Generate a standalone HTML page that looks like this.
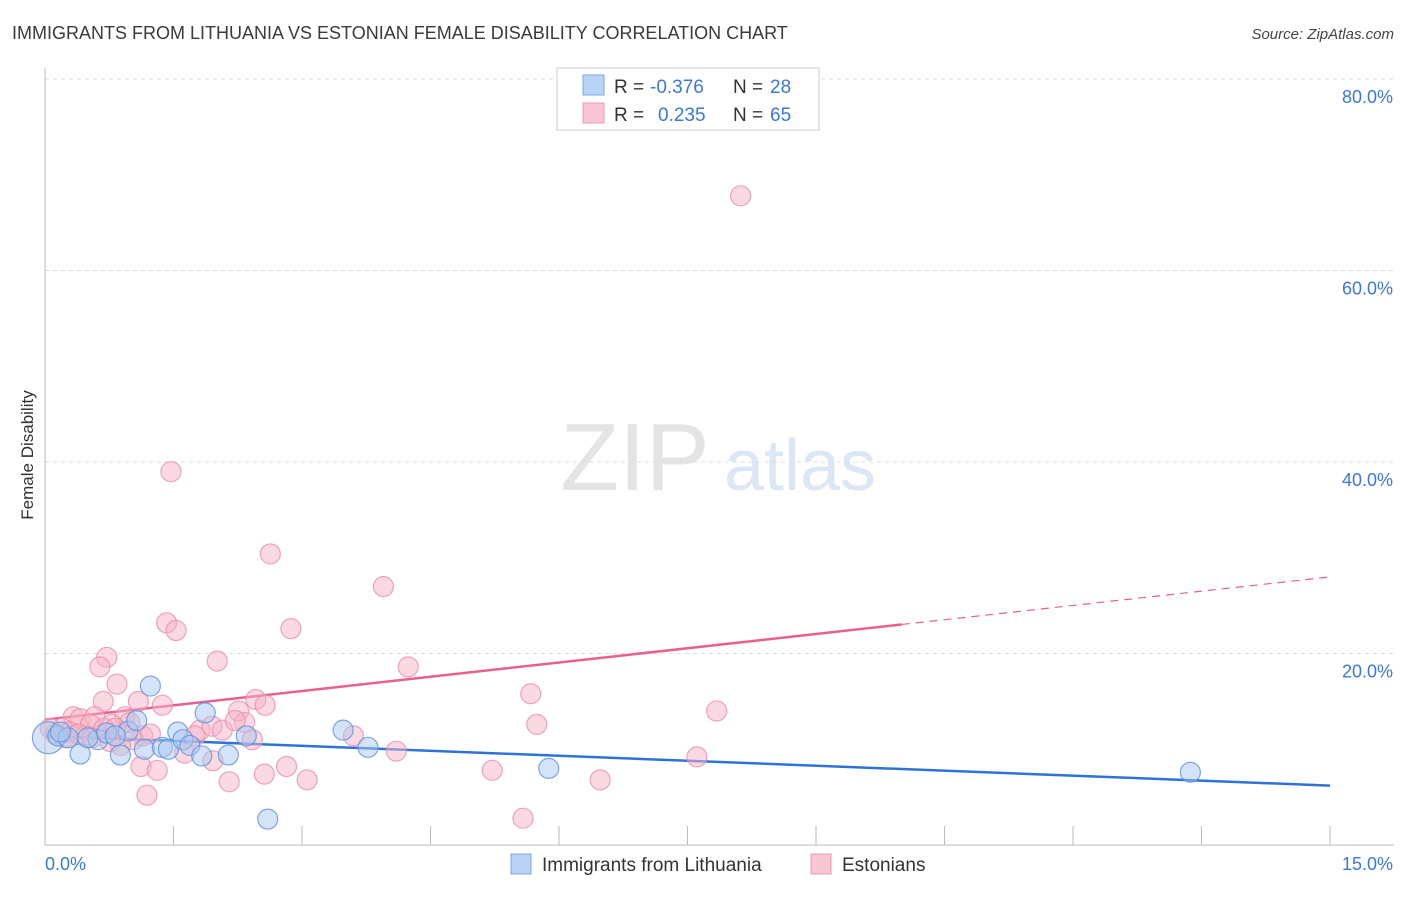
<!DOCTYPE html>
<html><head><meta charset="utf-8"><style>
body{margin:0;background:#fff;font-family:"Liberation Sans",sans-serif;}
svg text{font-family:"Liberation Sans",sans-serif;}
</style></head><body>
<svg id="chart" width="1406" height="892" xmlns="http://www.w3.org/2000/svg">
<text x="12" y="39" font-size="18" fill="#3a3a3a">IMMIGRANTS FROM LITHUANIA VS ESTONIAN FEMALE DISABILITY CORRELATION CHART</text>
<text x="1394" y="39" font-size="15" fill="#444" text-anchor="end" font-style="italic">Source: ZipAtlas.com</text>
<text transform="translate(33,455) rotate(-90)" font-size="17" fill="#333" text-anchor="middle">Female Disability</text>
<g><text x="635" y="490" font-size="96" fill="#e4e4e4" text-anchor="middle" font-family="Liberation Serif, serif">ZIP</text><text x="800" y="490" font-size="72" fill="#dce6f5" text-anchor="middle">atlas</text></g>
<g id="grid"></g><g id="axes"></g><g id="trends"></g><g id="points"></g>
<g>
<rect x="557" y="68" width="262" height="62" fill="#fff" stroke="#ccc"/>
<rect x="583" y="75" width="21" height="20" fill="#b8d3f5" stroke="#7aa7e6"/>
<rect x="583" y="103" width="21" height="20" fill="#f8c6d4" stroke="#ee9ab3"/>
<text x="614" y="93" font-size="19" fill="#333">R =</text>
<text x="650" y="93" font-size="19" fill="#3c78d8">-0.376</text>
<text x="733" y="93" font-size="19" fill="#333">N =</text>
<text x="770" y="93" font-size="19" fill="#3c78d8">28</text>
<text x="614" y="121" font-size="19" fill="#333">R =</text>
<text x="658" y="121" font-size="19" fill="#3c78d8">0.235</text>
<text x="733" y="121" font-size="19" fill="#333">N =</text>
<text x="770" y="121" font-size="19" fill="#3c78d8">65</text>
</g>
<g>
<rect x="511" y="854" width="20" height="20" fill="#b8d3f5" stroke="#7aa7e6"/>
<text x="542" y="871" font-size="19" fill="#333">Immigrants from Lithuania</text>
<rect x="811" y="854" width="20" height="20" fill="#f8c6d4" stroke="#ee9ab3"/>
<text x="842" y="871" font-size="19" fill="#333">Estonians</text>
</g>
</svg>
<script>
const blueX=[0.04,0.15,0.27,0.41,0.62,0.72,0.88,0.97,1.07,1.16,1.23,1.37,1.44,1.55,1.61,1.69,1.83,1.87,2.14,2.35,2.60,3.48,3.77,5.88,13.37,0.18,0.82,0.50];
const blueY=[11.2,11.4,11.2,9.5,11.0,11.7,9.4,11.9,13.0,10.0,16.6,10.2,10.0,11.8,11.0,10.4,9.3,13.8,9.4,11.4,2.7,12.0,10.2,8.0,7.6,11.8,11.4,11.2];
const pinkX=[8.12,1.47,2.63,3.95,1.42,1.53,2.87,0.72,2.01,0.64,4.24,0.84,5.67,0.68,1.09,1.37,2.46,2.57,7.84,0.33,0.41,0.58,0.93,2.26,2.33,5.74,0.53,0.78,0.99,1.81,1.95,2.07,3.60,0.20,0.29,0.47,1.14,1.03,2.42,0.88,4.10,7.61,1.63,1.96,1.12,2.82,1.31,2.56,5.22,3.06,6.48,2.15,1.19,5.58,0.12,0.06,0.23,0.39,0.55,0.69,0.76,1.23,1.75,2.22,0.82];
const pinkY=[67.8,39.0,30.4,27.0,23.2,22.4,22.6,19.6,19.2,18.6,18.6,16.8,15.8,15.0,15.0,14.6,15.2,14.6,14.0,13.4,13.2,13.4,13.4,14.0,12.8,12.6,12.6,12.6,12.8,12.0,12.4,12.0,11.4,12.2,11.8,11.4,11.4,11.0,11.0,10.4,9.8,9.2,9.6,8.8,8.2,8.2,7.8,7.4,7.8,6.8,6.8,6.6,5.2,2.8,11.6,12.2,11.2,11.6,11.2,12.2,10.8,11.6,11.4,13.0,12.2];
const blueTrend=[11.4,6.2];      // y at x=0 and x=15
const pinkTrend=[13.1,28.0];     // y at x=0 and x=15
const pinkSolidEnd=10.0;         // solid part ends at this x
const yTicks=[20,40,60,80];
const yTickLabels=["20.0%","40.0%","60.0%","80.0%"];
const xTicks=[0,1.5,3,4.5,6,7.5,9,10.5,12,13.5,15];
const xEndLabels=["0.0%","15.0%"];

const sx=v=>45+v*(1285/15);
const sy=v=>845-v*(766/80);
const NS="http://www.w3.org/2000/svg";
function mk(tag,parent,attrs){const e=document.createElementNS(NS,tag);for(const k in attrs)e.setAttribute(k,attrs[k]);parent.appendChild(e);return e;}
const grid=document.getElementById('grid'),axes=document.getElementById('axes'),trends=document.getElementById('trends'),pts=document.getElementById('points');
yTicks.forEach((t,i)=>{
 const l=mk('line',grid,{x1:45,x2:1394,y1:sy(t),y2:sy(t),stroke:'#ddd','stroke-dasharray':'4,4'});
 
 
 const tx=mk('text',axes,{x:1393,y:sy(t)+24,'font-size':18,fill:'#3c78d8','text-anchor':'end'});
 tx.textContent=yTickLabels[i];
 
 
});
const ya=mk('line',axes,{x1:45,x2:45,y1:68,y2:845,stroke:'#bbb'});


const xa=mk('line',axes,{x1:45,x2:1394,y1:845,y2:845,stroke:'#bbb'});


xTicks.forEach(t=>{
 const l=mk('line',axes,{x1:sx(t),x2:sx(t),y1:826,y2:845,stroke:'#bbb'});
 
 
});
const xl0=mk('text',axes,{x:45,y:870,'font-size':18,fill:'#3c78d8'});xl0.textContent=xEndLabels[0];


const xl1=mk('text',axes,{x:1393,y:870,'font-size':18,fill:'#3c78d8','text-anchor':'end'});xl1.textContent=xEndLabels[1];



function circ(x,y,r,fill,stroke,name){
 const c=mk('circle',pts,{cx:sx(x),cy:sy(y),r:r,fill:fill,'fill-opacity':0.5,stroke:stroke,'stroke-opacity':0.8,'stroke-width':1.2});
 
 
}
pinkX.forEach((x,i)=>circ(x,pinkY[i],10,'#f6b3c6','#ea8fab','estonians-point'));
blueX.forEach((x,i)=>circ(x,blueY[i],i===0?16:10,'#a9c8f0','#5d92dc','lithuania-point'));

const pAt=x=>pinkTrend[0]+(pinkTrend[1]-pinkTrend[0])*x/15;
const bl=mk('line',trends,{x1:sx(0),y1:sy(blueTrend[0]),x2:sx(15),y2:sy(blueTrend[1]),stroke:'#2e72d8','stroke-width':2.5});


const pl=mk('line',trends,{x1:sx(0),y1:sy(pAt(0)),x2:sx(pinkSolidEnd),y2:sy(pAt(pinkSolidEnd)),stroke:'#e8608d','stroke-width':2.5});


const pd=mk('line',trends,{x1:sx(pinkSolidEnd),y1:sy(pAt(pinkSolidEnd)),x2:sx(15),y2:sy(pAt(15)),stroke:'#e8608d','stroke-width':1.2,'stroke-dasharray':'8,6'});


</script>
</body></html>
